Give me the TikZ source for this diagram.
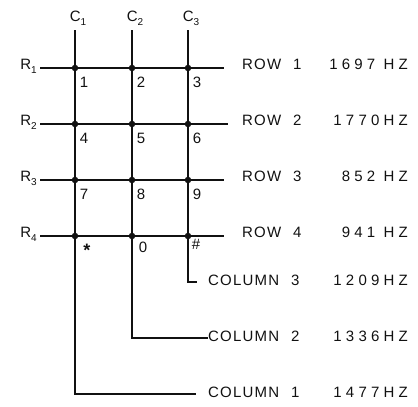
\documentclass[tikz,border=0pt]{standalone}
\usepackage{fontspec}
\setmainfont{Liberation Sans}
\newfontfamily\lettering[LetterSpace=8]{Liberation Sans}
\newfontfamily\figures[LetterSpace=28]{Liberation Sans}
\usepackage{tikz}
\definecolor{ink}{RGB}{17, 17, 17}
\newcommand{\padsub}[2]{#1\raisebox{-4pt}{\fontsize{10}{10}\selectfont #2}}

\begin{document}
\begin{tikzpicture}[x=1pt, y=-1pt,
        wire/.style     = {ink, line width=1.5pt},
        keylabel/.style = {ink, font=\fontsize{15}{15}\selectfont, inner sep=0pt},
        sidelabel/.style= {ink, font=\lettering\fontsize{15}{15}\selectfont, inner sep=0pt},
        freqlabel/.style= {ink, font=\figures\fontsize{15}{15}\selectfont, inner sep=0pt}]
        \useasboundingbox (0,0) rectangle (418,407);
        % column wires with their elbows
        \foreach \c/\x in {1/75, 2/132, 3/188}
            \coordinate (top\c) at (\x, 30);
        \coordinate (bend3) at (188, 282);  \coordinate (end3) at (197, 282);
        \coordinate (bend2) at (132, 338);  \coordinate (end2) at (208, 338);
        \coordinate (bend1) at ( 75, 394);  \coordinate (end1) at (196, 394);
        \foreach \c in {1, 2, 3}
            \draw[wire] (top\c) -- (bend\c) -- (end\c);
        % row wires
        \foreach \r/\y/\e in {1/68/224, 2/124/228, 3/180/224, 4/236/224} {
            \coordinate (left\r)  at ( 40, \y);
            \coordinate (right\r) at (\e, \y);
            \draw[wire] (left\r) -- (right\r);
            \node[keylabel, anchor=east] (rlab\r) at ([shift={(-3,-2)}]left\r) {\padsub{R}{\r}};
        }
        % crossing points
        \foreach \r in {1, 2, 3, 4}
            \foreach \c in {1, 2, 3} {
                \coordinate (k\r\c) at (top\c |- left\r);
                \filldraw[ink] (k\r\c) circle (3pt);
            }
        \foreach \c in {1, 2, 3}
            \node[keylabel, anchor=south] (clab\c) at ([shift={(3,-4)}]top\c) {\padsub{C}{\c}};
        % keys
        \foreach \r/\c/\t in {1/1/1, 1/2/2, 1/3/3, 2/1/4, 2/2/5, 2/3/6, 3/1/7, 3/2/8, 3/3/9}
            \node[keylabel] (key\t) at ([shift={(9,14)}]k\r\c) {\t};
        \node[keylabel, font=\bfseries\fontsize{18}{18}\selectfont] (keystar) at ([shift={(12,14)}]k41) {*};
        \node[keylabel] (keyzero)  at ([shift={(11,11)}]k42) {0};
        \node[keylabel] (keyhash)  at ([shift={( 8, 8)}]k43) {\#};
        % tone names
        \foreach \r/\f in {1/1697 HZ, 2/1770HZ, 3/852 HZ, 4/941 HZ} {
            \node[sidelabel, anchor=west] (row\r)  at ([shift={(18,-4)}]right1 |- left\r) {ROW\hspace{12pt}\r};
            \node[freqlabel, anchor=east] (rowf\r) at (408, 0 |- row\r) {\f};
        }
        \foreach \c/\f in {1/1477HZ, 2/1336HZ, 3/1209HZ} {
            \node[sidelabel, anchor=west] (col\c)  at ([yshift=2pt]208, 0 |- end\c) {COLUMN\hspace{12pt}\c};
            \node[freqlabel, anchor=east] (colf\c) at (408, 0 |- col\c) {\f};
        }
\end{tikzpicture}
\end{document}
